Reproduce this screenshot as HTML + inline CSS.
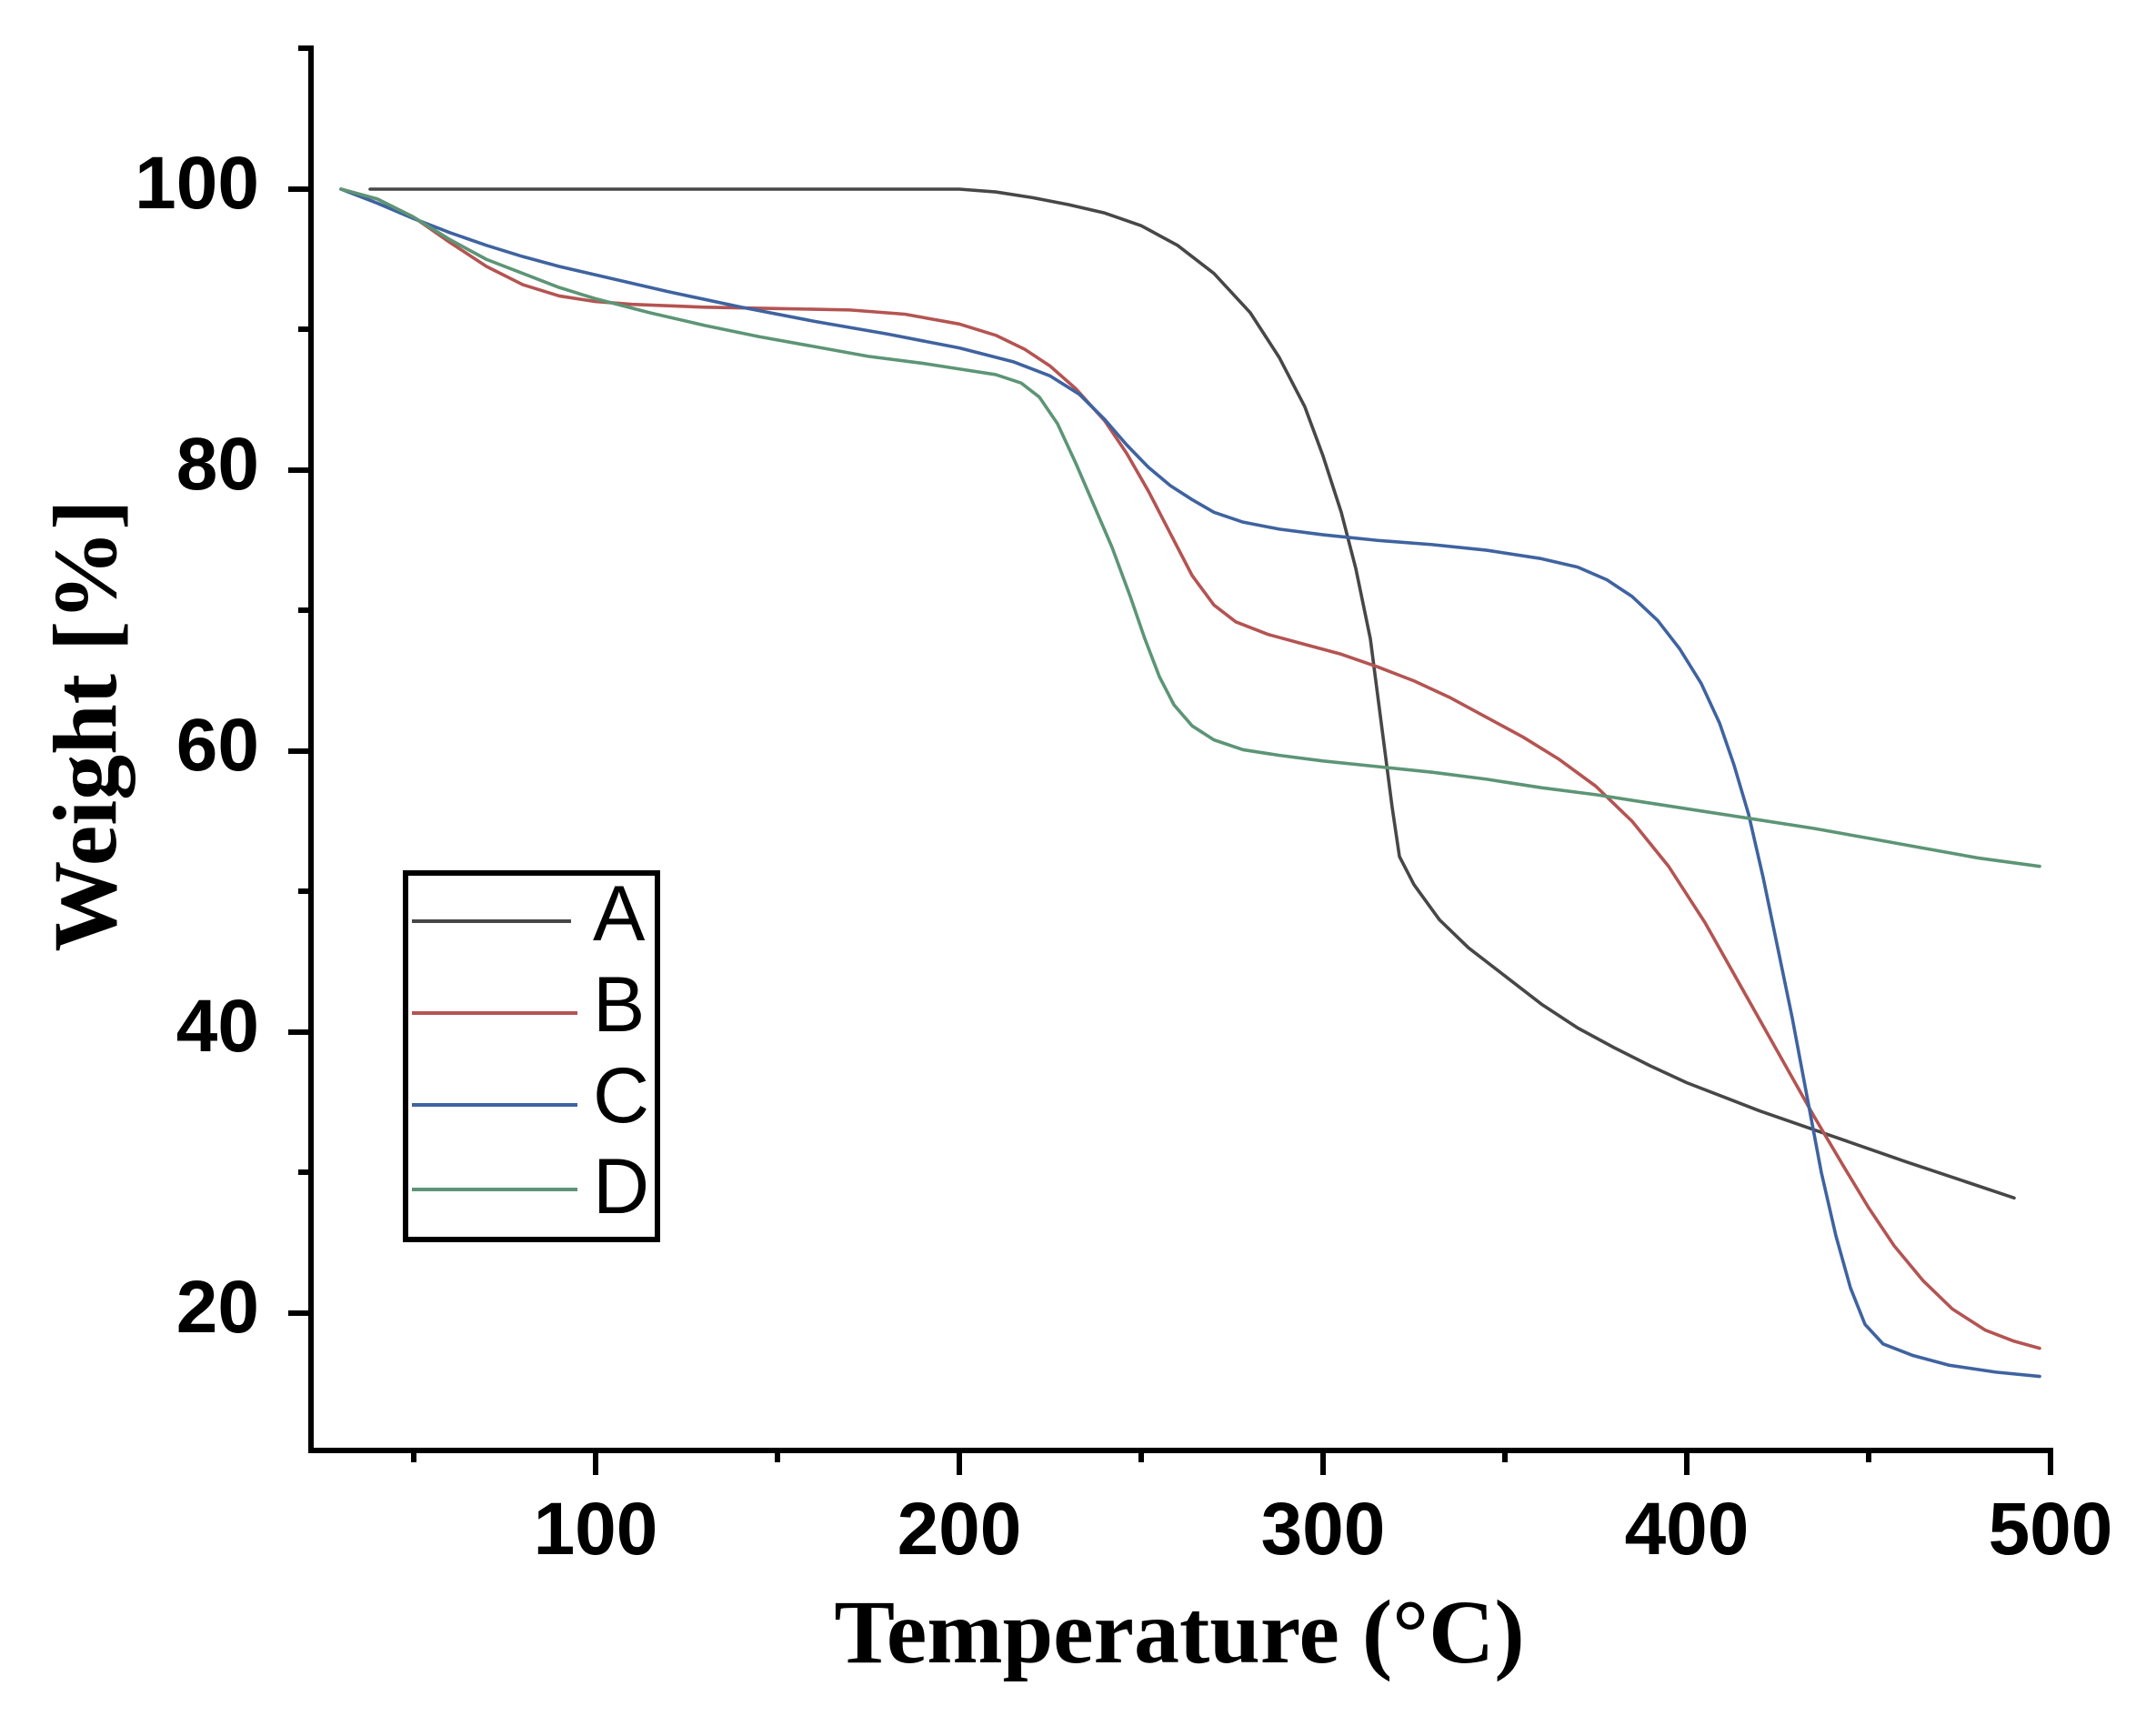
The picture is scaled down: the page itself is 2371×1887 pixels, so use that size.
<!DOCTYPE html>
<html><head><meta charset="utf-8"><style>
html,body{margin:0;padding:0;background:#fff;}
svg{display:block;}
</style></head><body>
<svg width="2371" height="1887" viewBox="0 0 2371 1887" xmlns="http://www.w3.org/2000/svg">
<rect width="2371" height="1887" fill="#fff"/>
<!-- axes -->
<line x1="342" y1="50" x2="342" y2="1598" stroke="#000" stroke-width="6"/>
<line x1="339" y1="1595" x2="2258" y2="1595" stroke="#000" stroke-width="6"/>
<g stroke="#000" stroke-width="6">
<!-- y major -->
<line x1="317" y1="208" x2="342" y2="208"/>
<line x1="317" y1="517" x2="342" y2="517"/>
<line x1="317" y1="826" x2="342" y2="826"/>
<line x1="317" y1="1135" x2="342" y2="1135"/>
<line x1="317" y1="1444" x2="342" y2="1444"/>
<line x1="328" y1="53" x2="342" y2="53"/>
<!-- y minor -->
<line x1="328" y1="362" x2="342" y2="362"/>
<line x1="328" y1="671" x2="342" y2="671"/>
<line x1="328" y1="980" x2="342" y2="980"/>
<line x1="328" y1="1289" x2="342" y2="1289"/>
<!-- x major -->
<line x1="655" y1="1595" x2="655" y2="1622"/>
<line x1="1055" y1="1595" x2="1055" y2="1622"/>
<line x1="1455" y1="1595" x2="1455" y2="1622"/>
<line x1="1855" y1="1595" x2="1855" y2="1622"/>
<line x1="2255" y1="1592" x2="2255" y2="1622"/>
<!-- x minor -->
<line x1="455" y1="1595" x2="455" y2="1608"/>
<line x1="855" y1="1595" x2="855" y2="1608"/>
<line x1="1255" y1="1595" x2="1255" y2="1608"/>
<line x1="1655" y1="1595" x2="1655" y2="1608"/>
<line x1="2055" y1="1595" x2="2055" y2="1608"/>
</g>
<g font-family="Liberation Sans, Arial, sans-serif" font-weight="bold" font-size="82" fill="#000">
<g text-anchor="end">
<text x="285" y="229">100</text>
<text x="285" y="538">80</text>
<text x="285" y="847">60</text>
<text x="285" y="1156">40</text>
<text x="285" y="1465">20</text>
</g>
<g text-anchor="middle">
<text x="655" y="1709">100</text>
<text x="1055" y="1709">200</text>
<text x="1455" y="1709">300</text>
<text x="1855" y="1709">400</text>
<text x="2255" y="1709">500</text>
</g>
</g>
<text x="1297" y="1828" text-anchor="middle" font-family="Liberation Serif, 'Times New Roman', serif" font-weight="bold" font-size="100" fill="#000">Temperature (°C)</text>
<text transform="translate(127,798) rotate(-90)" text-anchor="middle" font-family="Liberation Serif, 'Times New Roman', serif" font-weight="bold" font-size="100" fill="#000">Weight [%]</text>

<g transform="matrix(4 0 0 -15.45 255 1753)" fill="none" stroke-width="3.6" stroke-linejoin="round" stroke-linecap="round">
<polyline vector-effect="non-scaling-stroke" stroke="#474747" points="38,100 200,100 210,99.8 220,99.4 230,98.9 240,98.3 250,97.4 260,96 270,94 280,91.2 288,88 295,84.5 300,81 305,77 309,73 313,68 316,62 319,56 321,52.5 325,50.5 332,48 340,46 350,44 360,42 370,40.3 380,38.9 390,37.6 400,36.4 420,34.4 440,32.6 460,30.8 475,29.5 490,28.2"/>
<polyline vector-effect="non-scaling-stroke" stroke="#b45452" points="30,100 40,99.3 50,98 60,96.2 70,94.5 80,93.2 90,92.4 100,92 110,91.8 130,91.6 150,91.5 170,91.4 185,91.1 200,90.4 210,89.6 218,88.6 225,87.4 232,85.8 240,83.5 246,81.2 252,78.5 258,75.5 264,72.5 270,70.4 276,69.2 285,68.3 295,67.6 305,66.9 315,66 325,65 335,63.8 345,62.4 355,61 365,59.4 375,57.5 385,55 395,51.8 405,47.8 415,43.2 425,38.6 435,34 443,30.5 450,27.5 457,24.8 465,22.3 473,20.3 482,18.8 490,18 497,17.5"/>
<polyline vector-effect="non-scaling-stroke" stroke="#3f63a0" points="30,100 40,99 50,97.9 60,96.9 70,96 80,95.2 90,94.5 100,93.9 120,92.7 140,91.6 160,90.6 180,89.7 200,88.7 215,87.7 225,86.7 233,85.4 240,83.6 246,81.8 252,80.2 258,78.9 264,77.9 270,77 278,76.3 288,75.8 300,75.4 315,75 330,74.7 345,74.3 360,73.7 370,73.1 378,72.2 385,71 392,69.3 398,67.3 404,64.8 409,62 413,59 417,55.5 421,51 425,46 429,41 433,35.5 437,30 441,25.5 445,21.8 449,19.2 454,17.8 462,17 472,16.3 485,15.8 497,15.5"/>
<polyline vector-effect="non-scaling-stroke" stroke="#5c9576" points="30,100 40,99.3 50,98 60,96.4 70,95 80,94 90,93 100,92.2 115,91.2 130,90.3 145,89.5 160,88.8 175,88.1 190,87.6 200,87.2 210,86.8 217,86.2 222,85.2 227,83.3 232,80.5 237,77.5 242,74.5 247,71 251,68 255,65.3 259,63.3 264,61.8 270,60.8 278,60.1 288,59.7 300,59.3 315,58.9 330,58.5 345,58 360,57.4 375,56.9 390,56.3 405,55.7 420,55.1 435,54.5 450,53.8 465,53.1 480,52.4 497,51.8"/>
</g>

<!-- legend -->
<rect x="446" y="960" width="277" height="403" fill="#fff" stroke="#000" stroke-width="6"/>
<g stroke-width="4">
<line x1="453" y1="1013" x2="628" y2="1013" stroke="#474747"/>
<line x1="453" y1="1114" x2="635" y2="1114" stroke="#b45452"/>
<line x1="453" y1="1215" x2="635" y2="1215" stroke="#3f63a0"/>
<line x1="453" y1="1308" x2="635" y2="1308" stroke="#5c9576"/>
</g>
<g font-family="Liberation Sans, Arial, sans-serif" font-size="86" fill="#000">
<text x="652" y="1034">A</text>
<text x="652" y="1134">B</text>
<text x="652" y="1234">C</text>
<text x="652" y="1334">D</text>
</g>
</svg>
</body></html>
